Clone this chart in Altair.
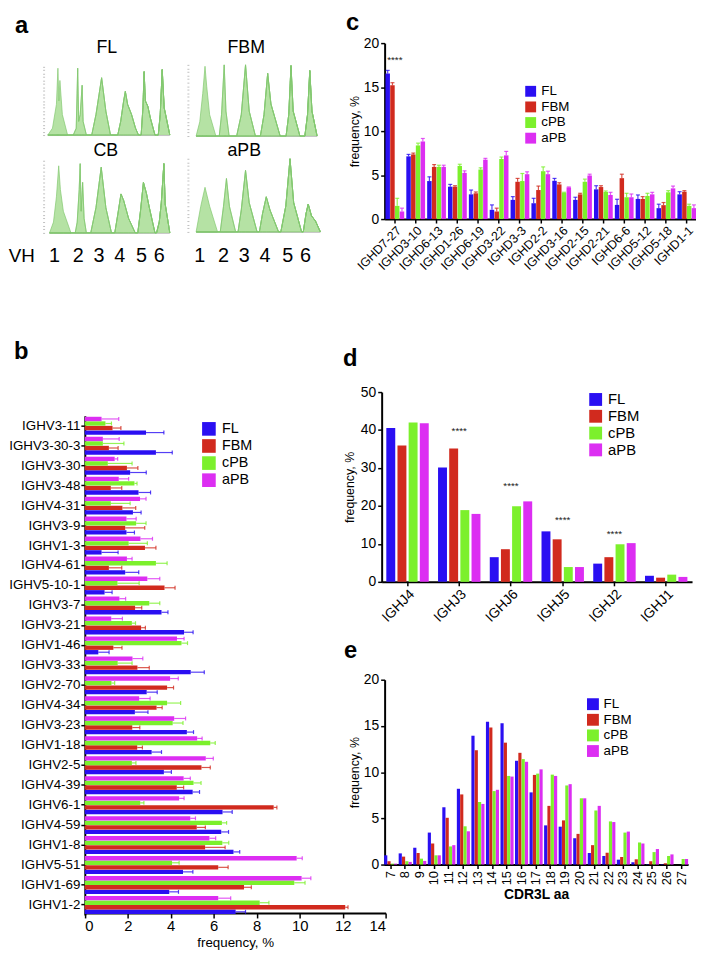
import altair as alt
import pandas as pd

W, H = 696, 950
FONT = "Liberation Sans"
GROUPS = ["FL", "FBM", "cPB", "aPB"]
COLORS = ["#2a0ff2", "#d12a1e", "#7cf02c", "#dc2ef2"]

# ---------------- panel a: spectratype peaks (position, relative height) ----------------
a_FL = [
    [(1.3, 0), (6, 0.1), (10, 0.45), (11.5, 0.98), (12.5, 0.5), (13.5, 0.8), (16, 0.3), (21.3, 0)],
    [(27, 0), (30, 0.1), (31.5, 0.98), (32.5, 0.2), (34, 0.3), (36, 0.73), (37, 0.2), (40.3, 0)],
    [(45.7, 0), (50, 0.3), (55.7, 0.84), (60, 0.35), (64.7, 0)],
    [(72, 0), (75, 0.2), (78, 0.5), (79.7, 0.64), (82, 0.45), (86, 0.3), (90, 0.1), (93, 0)],
    [(95.7, 0), (97.5, 0.4), (98.7, 0.93), (100, 0.5), (102.5, 0.42), (105, 0.25), (109.7, 0)],
    [(113, 0), (115, 0.3), (117, 0.96), (119, 0.4), (124.7, 0)],
]
a_FBM = [
    [(5.3, 0), (9, 0.2), (12, 0.6), (14.3, 0.98), (16, 0.7), (19, 0.3), (25.3, 0)],
    [(28.7, 0), (31, 0.3), (33.7, 1.0), (35.5, 0.35), (38.7, 0)],
    [(46.3, 0), (51, 0.3), (55.3, 1.0), (59, 0.35), (65.3, 0)],
    [(70.3, 0), (74, 0.3), (77.7, 0.88), (81, 0.45), (90.3, 0)],
    [(96.3, 0), (99, 0.3), (101.3, 0.99), (103.5, 0.35), (110.3, 0)],
    [(115.3, 0), (118, 0.3), (120.3, 0.92), (122.5, 0.35), (127.7, 0)],
]
a_CB = [
    [(3, 0), (7, 0.15), (10, 0.5), (12.3, 0.93), (14, 0.6), (17, 0.3), (24.7, 0)],
    [(29, 0), (31, 0.15), (33, 0.6), (34, 0.96), (35, 0.3), (36.5, 0.7), (38, 0.2), (40.3, 0)],
    [(44.7, 0), (50, 0.35), (55.3, 0.91), (60, 0.35), (65.7, 0)],
    [(69, 0), (72, 0.25), (75.3, 0.54), (78, 0.45), (83, 0.2), (89.7, 0)],
    [(92.3, 0), (95, 0.3), (98, 0.7), (101, 0.55), (104, 0.35), (109.7, 0)],
    [(111.3, 0), (114, 0.15), (116, 0.4), (118.7, 0.96), (120, 0.4), (124.7, 0)],
]
a_aPB = [
    [(5.3, 0), (10, 0.35), (14.3, 0.61), (19, 0.35), (27, 0)],
    [(29.7, 0), (33, 0.35), (36, 0.73), (39, 0.35), (45.3, 0)],
    [(47.7, 0), (51, 0.3), (55.3, 0.84), (59, 0.4), (67, 0)],
    [(69.3, 0), (72.5, 0.25), (76.3, 0.48), (80, 0.3), (88.7, 0)],
    [(91, 0), (96, 0.35), (100.3, 1.0), (104, 0.4), (112, 0)],
    [(113.7, 0), (116.5, 0.25), (118.7, 0.38), (122, 0.22), (126, 0.15), (131, 0)],
]

# ---------------- panel b: IGHV usage ----------------
b_genes = ["IGHV3-11", "IGHV3-30-3", "IGHV3-30", "IGHV3-48", "IGHV4-31", "IGHV3-9", "IGHV1-3",
           "IGHV4-61", "IGHV5-10-1", "IGHV3-7", "IGHV3-21", "IGHV1-46", "IGHV3-33", "IGHV2-70",
           "IGHV4-34", "IGHV3-23", "IGHV1-18", "IGHV2-5", "IGHV4-39", "IGHV6-1", "IGHV4-59",
           "IGHV1-8", "IGHV5-51", "IGHV1-69", "IGHV1-2"]
b_FL = [2.85, 3.31, 2.11, 2.50, 2.24, 1.94, 0.78, 1.88, 0.92, 3.57, 4.62, 0.63, 4.93, 2.88,
        2.33, 4.75, 3.11, 3.68, 5.02, 6.41, 6.35, 6.92, 4.57, 3.93, 7.02]
b_FL_sem = [0.83, 0.76, 0.75, 0.56, 0.38, 0.37, 0.77, 0.63, 0.35, 0.30, 0.42, 0.50, 0.63, 0.49,
            0.61, 0.31, 0.46, 0.35, 0.32, 0.45, 0.34, 0.29, 0.46, 0.43, 0.46]
b_FBM = [1.29, 1.12, 1.96, 1.21, 1.75, 1.88, 2.80, 1.12, 3.71, 2.34, 2.62, 1.33, 2.45, 3.83,
         3.34, 2.21, 2.44, 5.43, 4.28, 8.79, 5.21, 5.60, 6.21, 7.41, 12.12]
b_FBM_sem = [0.39, 0.43, 0.51, 0.51, 0.62, 0.91, 0.51, 0.60, 0.49, 0.31, 0.20, 0.40, 0.55, 0.30,
             0.26, 0.35, 0.24, 0.41, 0.32, 0.15, 0.40, 0.93, 0.46, 0.34, 0.13]
b_cPB = [0.96, 0.84, 1.07, 2.31, 1.21, 2.39, 2.04, 3.31, 1.52, 3.00, 2.19, 4.50, 1.53, 1.24,
         3.83, 4.09, 5.84, 2.19, 5.06, 2.58, 6.38, 6.40, 4.06, 9.75, 8.14]
b_cPB_sem = [0.28, 0.98, 1.13, 0.12, 0.90, 0.46, 0.87, 0.52, 1.01, 0.49, 0.17, 0.28, 0.67, 0.15,
             0.63, 0.48, 0.23, 0.19, 0.35, 0.17, 0.22, 0.30, 0.33, 0.50, 0.43]
b_aPB = [0.78, 0.84, 1.39, 1.58, 2.57, 1.94, 2.59, 1.96, 2.91, 1.61, 1.23, 4.29, 2.22, 3.97,
         2.53, 4.16, 5.23, 5.63, 4.60, 4.39, 4.91, 5.80, 9.86, 10.09, 6.21]
b_aPB_sem = [0.80, 0.76, 0.14, 0.46, 0.28, 0.45, 0.56, 0.24, 0.58, 0.29, 0.52, 0.33, 0.48, 0.38,
             0.51, 0.53, 0.23, 0.35, 0.31, 0.23, 0.24, 0.29, 0.26, 0.43, 0.58]

# ---------------- panel c: IGHD usage ----------------
c_genes = ["IGHD7-27", "IGHD3-10", "IGHD6-13", "IGHD1-26", "IGHD6-19", "IGHD3-22", "IGHD3-3",
           "IGHD2-2", "IGHD3-16", "IGHD2-15", "IGHD2-21", "IGHD6-6", "IGHD5-12", "IGHD5-18", "IGHD1-1"]
c_FL = [16.55, 7.13, 4.32, 3.68, 2.81, 1.05, 2.18, 1.80, 4.35, 2.18, 3.38, 1.61, 2.29, 1.24, 2.81]
c_FL_sem = [0.35, 0.22, 0.48, 0.26, 0.49, 0.56, 0.37, 0.56, 0.27, 0.30, 0.41, 0.64, 0.45, 0.45, 0.30]
c_FBM = [15.20, 7.35, 5.93, 3.68, 2.93, 0.86, 4.24, 3.30, 3.94, 2.81, 3.64, 4.65, 2.29, 1.58, 3.11]
c_FBM_sem = [0.30, 0.15, 0.26, 0.11, 0.15, 0.38, 0.38, 0.45, 0.19, 0.12, 0.15, 0.45, 0.26, 0.30, 0.12]
c_cPB = [1.50, 8.37, 5.93, 6.04, 5.63, 6.83, 4.32, 5.44, 3.00, 4.24, 3.08, 2.48, 2.63, 3.04, 1.50]
c_cPB_sem = [0.86, 0.26, 0.19, 0.19, 0.19, 0.22, 0.86, 0.49, 0.05, 0.30, 0.11, 0.45, 0.30, 0.19, 0.19]
c_aPB = [0.86, 8.82, 5.93, 5.25, 6.75, 7.24, 5.10, 5.10, 3.60, 4.95, 2.74, 2.48, 2.81, 3.49, 1.24]
c_aPB_sem = [0.38, 0.34, 0.19, 0.23, 0.15, 0.45, 0.27, 0.34, 0.05, 0.15, 0.30, 0.37, 0.23, 0.26, 0.37]
c_sig_genes = ["IGHD7-27"]
c_sig_y = [18.1]

# ---------------- panel d: IGHJ usage ----------------
d_genes = ["IGHJ4", "IGHJ3", "IGHJ6", "IGHJ5", "IGHJ2", "IGHJ1"]
d_FL = [40.5, 30.1, 6.5, 13.3, 4.8, 1.6]
d_FBM = [35.9, 35.1, 8.6, 11.2, 6.5, 1.1]
d_cPB = [42.0, 18.9, 19.9, 3.9, 9.9, 1.9]
d_aPB = [41.8, 17.9, 21.2, 3.9, 10.2, 1.3]
d_sig_genes = ["IGHJ3", "IGHJ6", "IGHJ5", "IGHJ2"]
d_sig_y = [39.8, 25.2, 16.4, 12.5]

# ---------------- panel e: CDR3L length ----------------
e_len = ["7", "8", "9", "10", "11", "12", "13", "14", "15", "16", "17", "18", "19", "20",
         "21", "22", "23", "24", "25", "26", "27"]
e_FL = [1.0, 1.21, 1.82, 3.46, 6.2, 8.2, 13.94, 15.44, 15.29, 11.23, 7.81, 4.24, 4.1, 2.85,
        1.25, 0.93, 0.53, 0.25, 0.04, 0.04, 0.0]
e_FBM = [0.36, 0.86, 1.25, 2.28, 5.06, 7.59, 12.37, 14.83, 13.19, 12.09, 9.70, 6.35, 4.78, 3.32,
         2.1, 1.28, 0.82, 0.57, 0.36, 0.14, 0.0]
e_cPB = [0.1, 0.36, 0.64, 1.0, 1.96, 4.14, 6.77, 7.95, 9.59, 11.41, 9.84, 9.73, 8.56, 7.17,
         5.85, 4.67, 3.46, 2.39, 1.35, 0.93, 0.6]
e_aPB = [0.1, 0.29, 0.39, 1.0, 2.1, 3.6, 6.56, 8.09, 9.52, 11.12, 10.3, 9.59, 8.70, 7.17,
         6.35, 4.6, 3.57, 2.28, 1.68, 1.1, 0.6]


def long_df(cats, series, sems=None):
    rows = []
    for gi, g in enumerate(GROUPS):
        for ci, c in enumerate(cats):
            v = series[gi][ci]
            r = {"cat": c, "grp": g, "val": v}
            if sems is not None:
                r["hi"] = v + sems[gi][ci]
            rows.append(r)
    return pd.DataFrame(rows)


def ax(**kw):
    d = dict(domainColor="black", domainWidth=2, tickColor="black", tickWidth=1.5, tickSize=4,
             labelColor="black", labelFont=FONT, titleFont=FONT, titleColor="black",
             titleFontWeight="normal", grid=False, labelPadding=2, labelOverlap=False)
    d.update(kw)
    return alt.Axis(**d)


def col(lx, ly, ssize, fs, rowpad, loff):
    return alt.Color("grp:N", scale=alt.Scale(domain=GROUPS, range=COLORS),
                     legend=alt.Legend(orient="none", legendX=lx, legendY=ly, title=None,
                                       symbolType="square", symbolSize=ssize, symbolStrokeWidth=0,
                                       symbolOpacity=1,
                                       labelFontSize=fs, labelFont=FONT, labelColor="black",
                                       rowPadding=rowpad, labelOffset=loff, padding=0))


ONE = pd.DataFrame({"k": [0]})


def txt(s, x, y, size, bold=False, align="center", baseline="middle"):
    return alt.Chart(ONE).mark_text(text=s, fontSize=size, font=FONT,
                                    fontWeight="bold" if bold else "normal",
                                    align=align, baseline=baseline, color="black").encode(
        x=alt.value(x), y=alt.value(y))


# ---------------- panel a ----------------
def spectrum(peaks, x0, ybase, ytop):
    rows, segs = [], []
    for i, pk in enumerate(peaks):
        for u, h in pk:
            rows.append({"seg": i, "u": u, "h": h})
        segs.append({"seg": i, "u0": pk[0][0], "u1": pk[-1][0], "h": 0})
    xs = alt.Scale(domain=[0, 132], range=[x0, x0 + 132], nice=False, zero=False)
    ys = alt.Scale(domain=[0, 1], range=[ybase, ytop], nice=False)
    yax = alt.Axis(orient="left", offset=-(x0 - 2), labels=False, domain=False, ticks=True,
                   tickSize=2, tickColor="#b0b0b0", tickWidth=0.8, tickCount=20, grid=False, title=None)
    area = alt.Chart(pd.DataFrame(rows)).mark_area(
        color="#addf9a", opacity=0.9, line={"color": "#82c86f", "strokeWidth": 0.7}).encode(
        x=alt.X("u:Q", scale=xs, axis=None), y=alt.Y("h:Q", scale=ys, axis=yax), detail="seg:N")
    base = alt.Chart(pd.DataFrame(segs)).mark_rule(color="#c4c4c4", strokeWidth=2).encode(
        x=alt.X("u0:Q", scale=xs, axis=None), x2="u1:Q", y=alt.Y("h:Q", scale=ys, axis=yax))
    return alt.layer(base, area)


spectra = [
    spectrum(a_FL, 39, 123, 54),
    spectrum(a_FBM, 185, 124, 52),
    spectrum(a_CB, 39, 222, 149),
    spectrum(a_aPB, 185, 221, 147),
]

# ---------------- panel b ----------------
dfb = long_df(b_genes, [b_FL, b_FBM, b_cPB, b_aPB], [b_FL_sem, b_FBM_sem, b_cPB_sem, b_aPB_sem])
b_y = alt.Y("cat:N", sort=b_genes,
            scale=alt.Scale(domain=b_genes, range=[407, 912], paddingInner=0.1, paddingOuter=0.05),
            axis=ax(orient="left", offset=-77.7, title=None, labelFontSize=13.5, labelPadding=1))
b_yo = alt.YOffset("grp:N", scale=alt.Scale(domain=["aPB", "cPB", "FBM", "FL"], paddingInner=0.04))
b_xs = alt.Scale(domain=[0, 14], range=[77.7, 382], nice=False)
b_xax = ax(orient="bottom", offset=910 - H, values=list(range(0, 15, 2)), title="frequency, %",
           labelFontSize=15, titleFontSize=13.5, titlePadding=2, tickSize=5, labelPadding=1)
b_x = alt.X("val:Q", scale=b_xs, axis=b_xax)
b_xhi = alt.X("hi:Q", scale=b_xs, axis=b_xax)
b_c = col(196, 413, 190, 14.5, 1.3, 6)
bb = alt.Chart(dfb)
panel_b = alt.layer(
    bb.mark_bar().encode(y=b_y, yOffset=b_yo, x=b_x, color=b_c),
    bb.mark_rule(strokeWidth=1.2, opacity=0.8).encode(y=b_y, yOffset=b_yo, x=b_x, x2="hi:Q", color=b_c),
    bb.mark_tick(thickness=1.2, size=4, orient="vertical", opacity=0.8).encode(
        y=b_y, yOffset=b_yo, x=b_xhi, color=b_c),
)

# ---------------- panel c ----------------
dfc = long_df(c_genes, [c_FL, c_FBM, c_cPB, c_aPB], [c_FL_sem, c_FBM_sem, c_cPB_sem, c_aPB_sem])
c_x = alt.X("cat:N", sort=c_genes,
            scale=alt.Scale(domain=c_genes, range=[381, 697], paddingInner=0.1, paddingOuter=0.04),
            axis=ax(orient="bottom", offset=208 - H, title=None, labelAngle=-45, labelFontSize=12.5,
                    labelPadding=1))
c_xo = alt.XOffset("grp:N", scale=alt.Scale(domain=GROUPS, paddingInner=0.06))
c_ys = alt.Scale(domain=[0, 20], range=[208, 30], nice=False)
c_yax = ax(orient="left", offset=-381, values=[0, 5, 10, 15, 20], title="frequency, %",
           labelFontSize=14, titleFontSize=12.5, titlePadding=2)
c_y = alt.Y("val:Q", scale=c_ys, axis=c_yax)
c_yhi = alt.Y("hi:Q", scale=c_ys, axis=c_yax)
c_c = col(522, 72, 121, 13.5, 0.8, 4)
cb = alt.Chart(dfc)
dfc_sig = pd.DataFrame({"cat": c_sig_genes, "val": c_sig_y})
panel_c = alt.layer(
    cb.mark_bar().encode(x=c_x, xOffset=c_xo, y=c_y, color=c_c),
    cb.mark_rule(strokeWidth=1.2, opacity=0.8).encode(x=c_x, xOffset=c_xo, y=c_y, y2="hi:Q", color=c_c),
    cb.mark_tick(thickness=1.2, size=4, orient="horizontal", opacity=0.8).encode(
        x=c_x, xOffset=c_xo, y=c_yhi, color=c_c),
    alt.Chart(dfc_sig).mark_text(text="****", fontSize=10, font=FONT, color="#222").encode(x=c_x, y=c_y),
)

# ---------------- panel d ----------------
dfd = long_df(d_genes, [d_FL, d_FBM, d_cPB, d_aPB])
d_x = alt.X("cat:N", sort=d_genes,
            scale=alt.Scale(domain=d_genes, range=[378, 692], paddingInner=0.18, paddingOuter=0.09),
            axis=ax(orient="bottom", offset=575 - H, title=None, labelAngle=-45, labelFontSize=14,
                    labelPadding=1))
d_xo = alt.XOffset("grp:N", scale=alt.Scale(domain=GROUPS, paddingInner=0.2))
d_ys = alt.Scale(domain=[0, 50], range=[575, 383], nice=False)
d_yax = ax(orient="left", offset=-378, values=[0, 10, 20, 30, 40, 50], title="frequency, %",
           labelFontSize=14, titleFontSize=12.5, titlePadding=4)
d_y = alt.Y("val:Q", scale=d_ys, axis=d_yax)
d_c = col(587, 383, 169, 15, 1, 5)
dfd_sig = pd.DataFrame({"cat": d_sig_genes, "val": d_sig_y})
panel_d = alt.layer(
    alt.Chart(dfd).mark_bar().encode(x=d_x, xOffset=d_xo, y=d_y, color=d_c),
    alt.Chart(dfd_sig).mark_text(text="****", fontSize=10, font=FONT, color="#222").encode(x=d_x, y=d_y),
)

# ---------------- panel e ----------------
dfe = long_df(e_len, [e_FL, e_FBM, e_cPB, e_aPB])
e_x = alt.X("cat:N", sort=e_len,
            scale=alt.Scale(domain=e_len, range=[380.5, 688], paddingInner=0.1, paddingOuter=0.0),
            axis=ax(orient="bottom", offset=861 - H, title="CDR3L aa", titleFontWeight="bold",
                    titleFontSize=14, labelAngle=-90, labelFontSize=13, labelPadding=2, titlePadding=3))
e_xo = alt.XOffset("grp:N", scale=alt.Scale(domain=GROUPS, paddingInner=0.04))
e_ys = alt.Scale(domain=[0, 20], range=[861, 674], nice=False)
e_yax = ax(orient="left", offset=-381, values=[0, 5, 10, 15, 20], title="frequency, %",
           labelFontSize=14, titleFontSize=12.5, titlePadding=2)
e_y = alt.Y("val:Q", scale=e_ys, axis=e_yax)
e_c = col(585, 692, 144, 13.5, 0.8, 4)
panel_e = alt.Chart(dfe).mark_bar().encode(x=e_x, xOffset=e_xo, y=e_y, color=e_c)

# ---------------- text annotations ----------------
texts = [
    txt("a", 7, 20, 24, bold=True, align="left", baseline="alphabetic"),
    txt("b", 6, 350, 24, bold=True, align="left", baseline="alphabetic"),
    txt("c", 342, 17, 24, bold=True, align="left", baseline="alphabetic"),
    txt("d", 339, 357, 24, bold=True, align="left", baseline="alphabetic"),
    txt("e", 340, 652, 24, bold=True, align="left", baseline="alphabetic"),
    txt("FL", 100, 35.5, 18),
    txt("FBM", 241, 35.5, 18),
    txt("CB", 99, 139, 18),
    txt("aPB", 239, 139, 18),
    txt("VH", 14, 245, 19),
]
for s, xl in zip(["1", "2", "3", "4", "5", "6"], [47, 71, 92, 113, 135, 153]):
    texts.append(txt(s, xl, 245, 20))
for s, xr in zip(["1", "2", "3", "4", "5", "6"], [194, 218, 239, 260, 283, 301]):
    texts.append(txt(s, xr, 245, 20))

chart = alt.layer(*spectra, panel_b, panel_c, panel_d, panel_e, *texts).resolve_scale(
    x="independent", y="independent", color="independent",
    xOffset="independent", yOffset="independent"
).properties(
    width=W, height=H, autosize=alt.AutoSizeParams(type="none"), padding=0
).configure(font=FONT).configure_view(stroke=None)

chart.save("out.html", embed_options={"renderer": "svg", "actions": False})
